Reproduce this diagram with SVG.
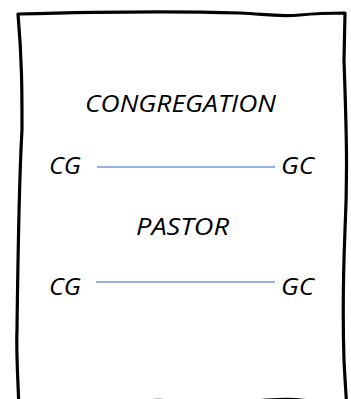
<svg xmlns="http://www.w3.org/2000/svg" width="351" height="399" viewBox="0 0 351 399">
<style>
.lbl{font-family:"Open Sans","Noto Sans","Liberation Sans",sans-serif;font-style:italic;font-size:23px;fill:#000}
.frame{fill:#fff;stroke:#000;stroke-width:3.2;stroke-linejoin:round;stroke-linecap:round}
.conn{stroke:#7397D3;stroke-width:1.6;fill:none}
</style>
<rect width="351" height="399" fill="#fff"/>
<g id="frame">
<path class="frame" d="M18,14 C90,12 180,11 240,13 C265,14 275,17 300,15 C320,13 335,13 345,13 L344,60 C346,120 348,170 345,230 C343,280 343,330 344,360 C345,380 346,395 347,410 C330,408 320,399.5 285,399.3 C260,399.5 250,402 240,406 C210,414 195,407 180,403 C165,399.6 150,399.6 140,403 C110,412 50,412 19,410 C18,380 16,350 17,330 C18,250 19,180 22,130 C22,90 22,60 18,14 Z"/>
</g>
<g id="congregation"><text class="lbl" x="85" y="112" textLength="191" lengthAdjust="spacingAndGlyphs">CONGREGATION</text></g>
<g id="cg1"><text class="lbl" x="49" y="174" textLength="32" lengthAdjust="spacingAndGlyphs">CG</text></g>
<g id="gc1"><text class="lbl" x="281" y="174" textLength="33" lengthAdjust="spacingAndGlyphs">GC</text></g>
<g id="pastor"><text class="lbl" x="136" y="235" textLength="93" lengthAdjust="spacingAndGlyphs">PASTOR</text></g>
<g id="cg2"><text class="lbl" x="49" y="295" textLength="32" lengthAdjust="spacingAndGlyphs">CG</text></g>
<g id="gc2"><text class="lbl" x="281" y="295" textLength="33" lengthAdjust="spacingAndGlyphs">GC</text></g>
<g id="connectors">
<line class="conn" x1="97" y1="167" x2="275" y2="167"/>
<line class="conn" x1="96" y1="282" x2="275" y2="282"/>
</g>
</svg>
